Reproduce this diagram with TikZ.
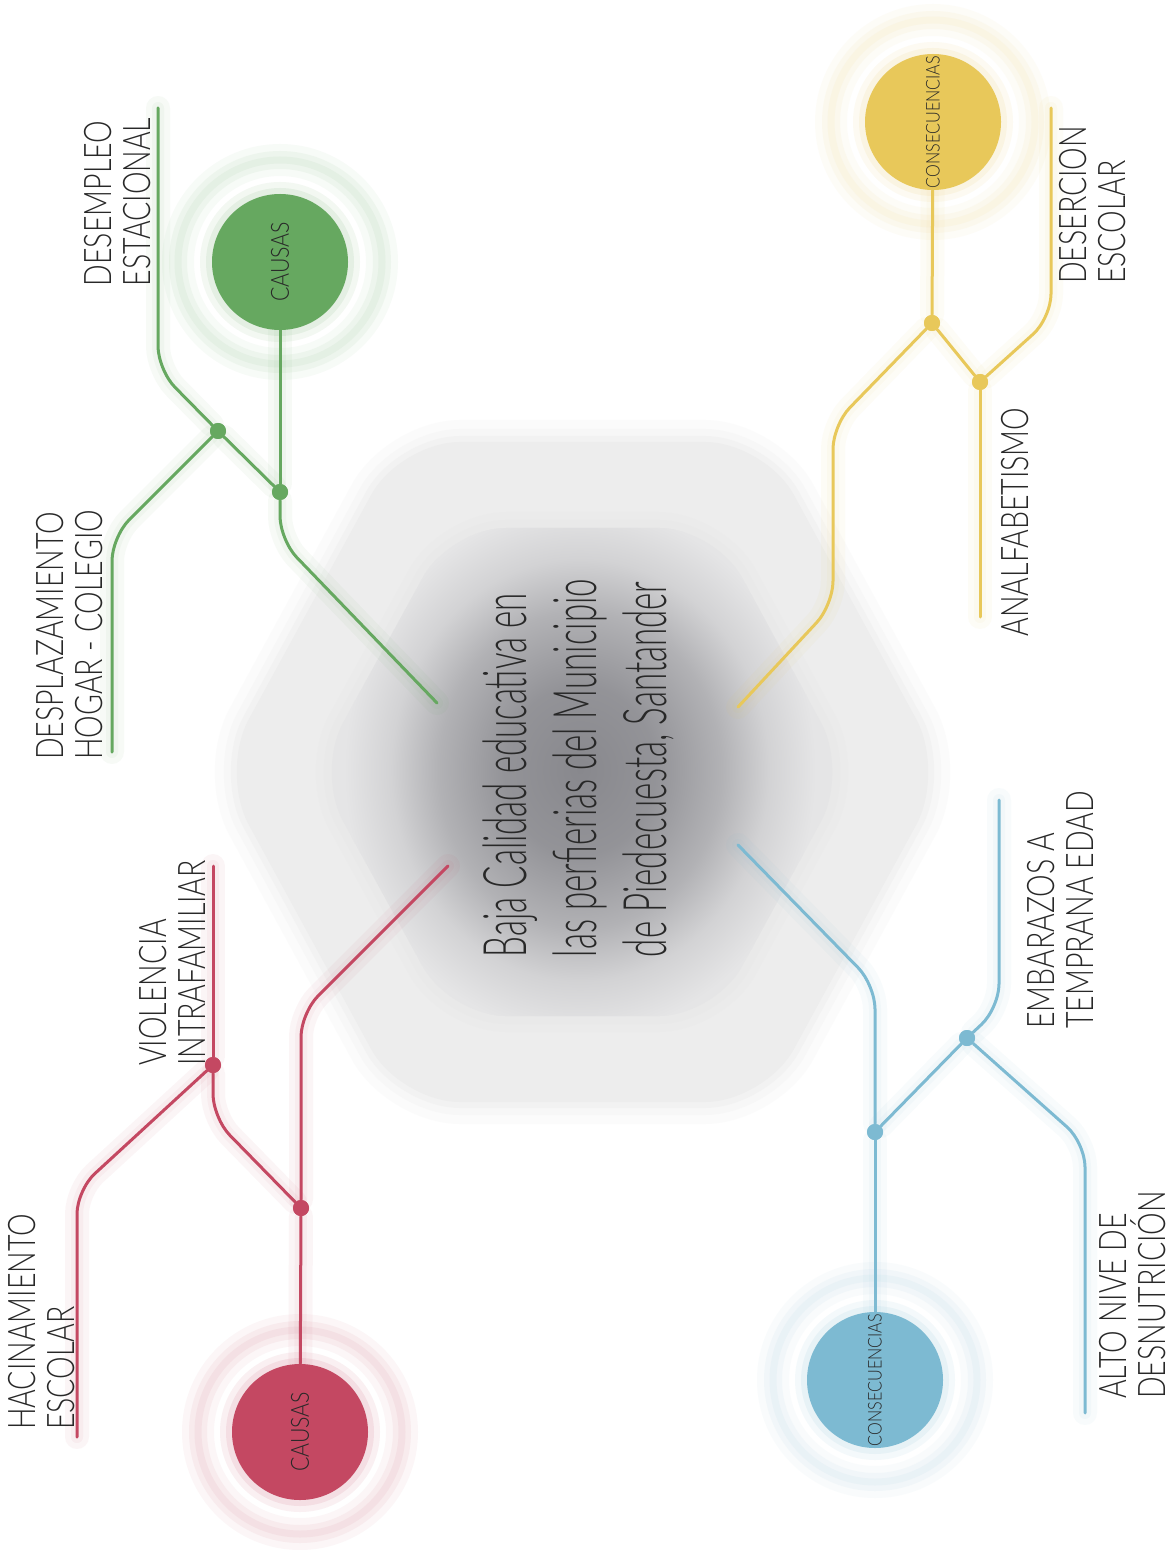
\documentclass[tikz,border=0pt]{standalone}
\usepackage{fontspec}
\newfontfamily\labfont{Lato Light}[FakeStretch=0.75]
\newfontfamily\cenfont{Lato Light}[FakeStretch=0.55]
\newfontfamily\circfont{Lato Light}[FakeStretch=0.85]
\definecolor{cgreen}{RGB}{102,168,96}
\definecolor{cred}{RGB}{196,72,98}
\definecolor{cyel}{RGB}{232,200,90}
\definecolor{cblue}{RGB}{125,186,210}
\definecolor{txt}{RGB}{40,40,40}
\definecolor{hexout}{RGB}{237,237,237}
\definecolor{hexin}{RGB}{229,229,230}
\definecolor{cdark}{RGB}{136,136,141}
\colorlet{cmid}{cdark!88!hexin}
\colorlet{cmid2}{cdark!55!hexin}
\colorlet{cmid3}{cdark!20!hexin}
\pgfdeclareradialshading{cglow}{\pgfpoint{0bp}{0bp}}{color(0bp)=(cdark); color(8bp)=(cmid); color(15bp)=(cmid2); color(20bp)=(cmid3); color(25bp)=(hexin); color(50bp)=(hexin)}
\tikzset{
  conn/.style={line width=1.5pt, line cap=round, rounded corners=12pt},
  glowline/.style={line width=12pt, opacity=0.05, line cap=round, rounded corners=12pt},
  glowline2/.style={line width=6pt, opacity=0.05, line cap=round, rounded corners=12pt},
  dotn/.style={circle, inner sep=0pt, minimum size=8pt},
  hub/.style={circle, inner sep=0pt, minimum size=68pt, text=txt, rotate=90},
  causas/.style={hub, font=\circfont\fontsize{12.5}{12.5}\selectfont},
  consec/.style={hub, font=\circfont\fontsize{9.5}{10}\selectfont},
  lab/.style={rotate=90, align=left, text=txt, inner sep=0pt, font=\labfont\fontsize{19}{19.5}\selectfont},
  centxt/.style={rotate=90, align=left, text=txt, inner sep=0pt, font=\cenfont\fontsize{30}{35}\selectfont},
}
\newcommand\gpath[2]{\draw[glowline,#1] #2; \draw[glowline2,#1] #2; \draw[conn,#1] #2;}
\newcommand\halo[2]{%
  \fill[#1, opacity=0.08] #2 circle (40pt);
  \fill[#1, opacity=0.10] #2 circle (37pt);
  \draw[#1!45, opacity=0.10, line width=16pt] #2 circle (51pt);
  \draw[#1!45, opacity=0.15, line width=9pt] #2 circle (51pt);
  \draw[#1!40, opacity=0.20, line width=3.5pt] #2 circle (51pt);
}
\begin{document}
\begin{tikzpicture}[x=0.5pt,y=-0.5pt]
\useasboundingbox (0,0) rectangle (1174,1550);
\fill[white] (0,0) rectangle (1174,1550);
% hexagons
\def\outerhex{(945,772) -- (765,442) -- (400,442) -- (220,772) -- (400,1102) -- (765,1102) -- cycle}
\def\innerhex{(848,772) -- (715,528) -- (450,528) -- (316,772) -- (450,1016) -- (715,1016) -- cycle}
\draw[black!10, line width=22pt, opacity=0.12, rounded corners=30pt] \outerhex;
\draw[black!10, line width=13pt, opacity=0.18, rounded corners=30pt] \outerhex;
\draw[black!10, line width=6pt, opacity=0.25, rounded corners=30pt] \outerhex;
\fill[hexout, rounded corners=30pt] \outerhex;
\draw[black!12, line width=16pt, opacity=0.10, rounded corners=28pt] \innerhex;
\draw[black!12, line width=8pt, opacity=0.15, rounded corners=28pt] \innerhex;
\fill[hexin, rounded corners=28pt] \innerhex;
\begin{scope}
  \clip[rounded corners=28pt] \innerhex;
  \shade[shading=cglow] (580,770) ellipse (118pt and 132pt);
\end{scope}
\node[centxt] (ctr) at (578,768) {Baja Calidad educativa en\\las perfierias del Municipio\\de Piedecuesta, Santander};
% halos
\halo{cgreen}{(280,262)}
\halo{cred}{(300,1432)}
\halo{cyel}{(933,122)}
\halo{cblue}{(875,1380)}
% hubs
\node[causas, fill=cgreen] (gc) at (280,262) {CAUSAS};
\node[causas, fill=cred] (rc) at (300,1432) {CAUSAS};
\node[consec, fill=cyel] (yc) at (933,122) {CONSECUENCIAS};
\node[consec, fill=cblue] (bc) at (875,1380) {CONSECUENCIAS};
% dots
\node[dotn, fill=cgreen] (gd1) at (280,492) {};
\node[dotn, fill=cgreen] (gd2) at (218,431) {};
\node[dotn, fill=cred] (rd1) at (301,1208) {};
\node[dotn, fill=cred] (rd2) at (213,1065) {};
\node[dotn, fill=cyel] (yd1) at (932,323) {};
\node[dotn, fill=cyel] (yd2) at (980,382) {};
\node[dotn, fill=cblue] (bd1) at (875,1132) {};
\node[dotn, fill=cblue] (bd2) at (967,1038) {};
% free ends
\coordinate (gE1) at (158,108);
\coordinate (gE2) at (112,752);
\coordinate (gE3) at (437,703);
\coordinate (rE1) at (213,866);
\coordinate (rE2) at (77,1437);
\coordinate (rE3) at (448,866);
\coordinate (yE1) at (1051,108);
\coordinate (yE2) at (980,617);
\coordinate (yE3) at (738,707);
\coordinate (bE1) at (999,800);
\coordinate (bE2) at (1085,1413);
\coordinate (bE3) at (738,845);
% green
\gpath{cgreen}{(gc) -- (gd1)}
\gpath{cgreen}{(gd1) -- (gd2)}
\gpath{cgreen}{(gd2) -- (158,370) -- (gE1)}
\gpath{cgreen}{(gd2) -- (112,537) -- (gE2)}
\gpath{cgreen}{(gd1) -- (280,540) -- (gE3)}
% red
\gpath{cred}{(rc) -- (rd1)}
\gpath{cred}{(rd1) -- (213,1118) -- (rd2)}
\gpath{cred}{(rd2) -- (rE1)}
\gpath{cred}{(rd2) -- (77,1190) -- (rE2)}
\gpath{cred}{(rd1) -- (301,1013) -- (rE3)}
% yellow
\gpath{cyel}{(yc) -- (yd1)}
\gpath{cyel}{(yd1) -- (yd2)}
\gpath{cyel}{(yd2) -- (yE2)}
\gpath{cyel}{(yd2) -- (1051,318) -- (yE1)}
\gpath{cyel}{(yd1) -- (833,425) -- (833,605) -- (yE3)}
% blue
\gpath{cblue}{(bc) -- (bd1)}
\gpath{cblue}{(bd1) -- (bd2)}
\gpath{cblue}{(bd2) -- (999,1008) -- (bE1)}
\gpath{cblue}{(bd2) -- (1085,1143) -- (bE2)}
\gpath{cblue}{(bd1) -- (875,985) -- (bE3)}
% redraw dots on top
\foreach \d/\c in {gd1/cgreen,gd2/cgreen,rd1/cred,rd2/cred,yd1/cyel,yd2/cyel,bd1/cblue,bd2/cblue}
  \fill[\c] (\d.center) circle (4pt);
% labels
\node[lab] (l1) at (118,202) {DESEMPLEO\\ESTACIONAL};
\node[lab] (l2) at (70,635) {DESPLAZAMIENTO\\HOGAR - COLEGIO};
\node[lab] (l3) at (172,963) {VIOLENCIA\\INTRAFAMILIAR};
\node[lab] (l4) at (42,1322) {HACINAMIENTO\\ESCOLAR};
\node[lab] (l5) at (1093,205) {DESERCION\\ESCOLAR};
\node[lab] (l6) at (1015,522) {ANALFABETISMO};
\node[lab] (l7) at (1060,910) {EMBARAZOS A\\TEMPRANA EDAD};
\node[lab] (l8) at (1133,1295) {ALTO NIVE DE\\DESNUTRICIÓN};
\end{tikzpicture}
\end{document}
